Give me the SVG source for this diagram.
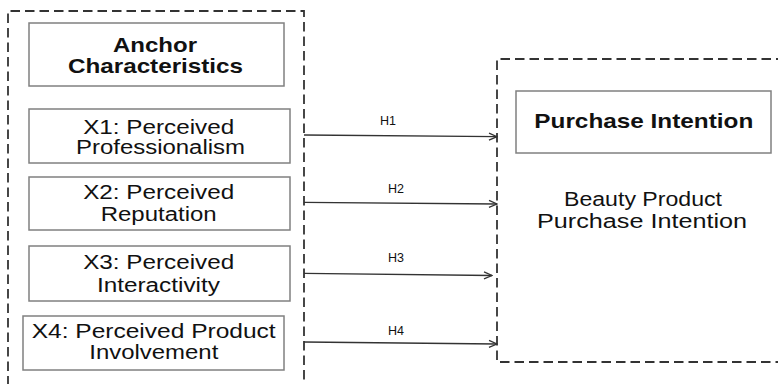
<svg xmlns="http://www.w3.org/2000/svg" width="778" height="384" viewBox="0 0 778 384">
<style>
.bg{fill:#fff}
.dash{fill:none;stroke:#333;stroke-width:1.8;stroke-dasharray:9.5 5}
.box{fill:#fff;stroke:#808080;stroke-width:1.5}
.t{font-family:"Liberation Sans",Arial,sans-serif;font-size:20px;fill:#111;text-anchor:middle}
.b{font-weight:bold;font-size:21px}
.h{font-family:"Liberation Sans",Arial,sans-serif;font-size:12px;fill:#111;text-anchor:middle}
.c{fill:none;stroke:#333;stroke-width:1.3}
</style>
<defs>
<marker id="arr" markerWidth="10" markerHeight="10" refX="9" refY="5" orient="auto" markerUnits="userSpaceOnUse">
<path d="M1,1.5 L9,5 L1,8.5" fill="none" stroke="#333" stroke-width="1.3"/>
</marker>
</defs>
<rect class="bg" x="0" y="0" width="778" height="384"/>
<g id="group-left">
<path class="dash" d="M8,400 L8,11 L304,11 L304,400"/>
</g>
<g id="group-right">
<path class="dash" d="M800,59 L497,59 L497,362 L800,362"/>
</g>
<g id="anchor">
<rect class="box" x="29" y="23" width="255" height="63"/>
<text class="t b" x="155" y="52" textLength="84" lengthAdjust="spacingAndGlyphs">Anchor</text>
<text class="t b" x="155.5" y="73" textLength="175" lengthAdjust="spacingAndGlyphs">Characteristics</text>
</g>
<g id="x1">
<rect class="box" x="29" y="109" width="261" height="54"/>
<text class="t" x="158.7" y="133.5" textLength="151" lengthAdjust="spacingAndGlyphs">X1: Perceived</text>
<text class="t" x="160.5" y="154" textLength="169" lengthAdjust="spacingAndGlyphs">Professionalism</text>
</g>
<g id="x2">
<rect class="box" x="29" y="177" width="261" height="53"/>
<text class="t" x="158.7" y="199" textLength="151" lengthAdjust="spacingAndGlyphs">X2: Perceived</text>
<text class="t" x="158.7" y="221" textLength="116" lengthAdjust="spacingAndGlyphs">Reputation</text>
</g>
<g id="x3">
<rect class="box" x="29" y="246" width="261" height="55"/>
<text class="t" x="158.7" y="269" textLength="151" lengthAdjust="spacingAndGlyphs">X3: Perceived</text>
<text class="t" x="158.4" y="291.5" textLength="123" lengthAdjust="spacingAndGlyphs">Interactivity</text>
</g>
<g id="x4">
<rect class="box" x="23" y="316" width="261" height="54"/>
<text class="t" x="153.7" y="337.5" textLength="244" lengthAdjust="spacingAndGlyphs">X4: Perceived Product</text>
<text class="t" x="153.8" y="359" textLength="129" lengthAdjust="spacingAndGlyphs">Involvement</text>
</g>
<g id="purchase">
<rect class="box" x="516" y="91" width="255" height="62"/>
<text class="t b" x="643.8" y="128" textLength="219" lengthAdjust="spacingAndGlyphs">Purchase Intention</text>
</g>
<g id="beauty">
<text class="t" x="643" y="206" textLength="158" lengthAdjust="spacingAndGlyphs">Beauty Product</text>
<text class="t" x="642" y="228" textLength="210" lengthAdjust="spacingAndGlyphs">Purchase Intention</text>
</g>
<g id="connectors">
<line class="c" x1="304" y1="135" x2="497" y2="136.7" marker-end="url(#arr)"/>
<line class="c" x1="304" y1="202.3" x2="497" y2="204" marker-end="url(#arr)"/>
<line class="c" x1="304" y1="273.3" x2="492" y2="275.5" marker-end="url(#arr)"/>
<line class="c" x1="304" y1="342" x2="497" y2="344" marker-end="url(#arr)"/>
<text class="h" x="388" y="125" textLength="16" lengthAdjust="spacingAndGlyphs">H1</text>
<text class="h" x="396" y="193" textLength="16" lengthAdjust="spacingAndGlyphs">H2</text>
<text class="h" x="396" y="262" textLength="16" lengthAdjust="spacingAndGlyphs">H3</text>
<text class="h" x="396" y="335" textLength="16" lengthAdjust="spacingAndGlyphs">H4</text>
</g>
</svg>
